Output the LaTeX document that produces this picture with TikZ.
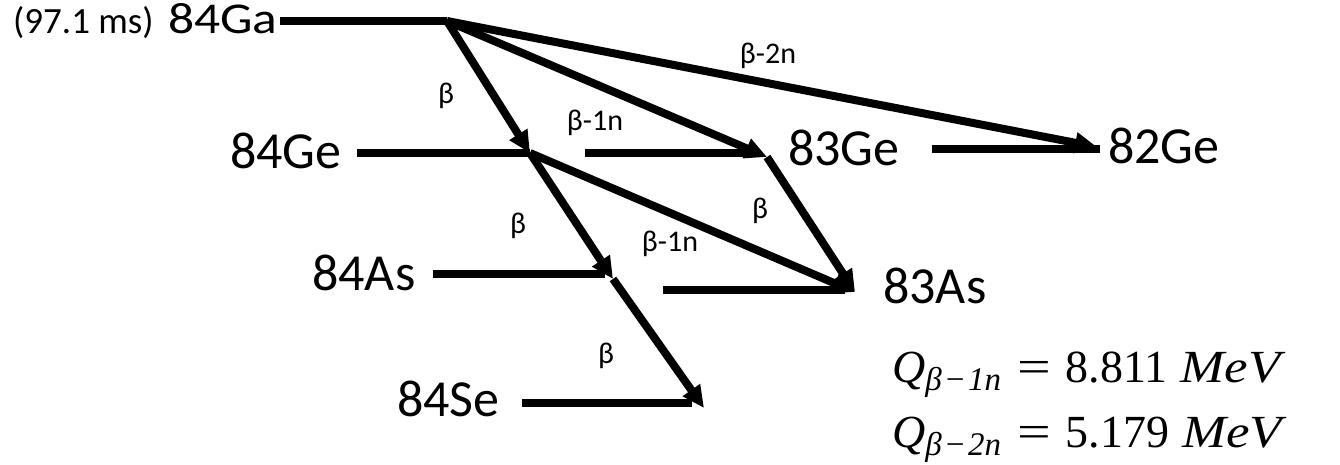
\documentclass[tikz,border=0pt]{standalone}
\usepackage{fontspec}
\setmainfont{Carlito}
\newfontfamily\qfont{Liberation Serif}
\usetikzlibrary{arrows.meta}
\newcommand{\qsub}[1]{\raisebox{-0.18em}{\fontsize{33}{36}\selectfont\itshape #1}}
\newcommand{\qline}[2]{\textit{Q}\qsub{β\hspace{2pt}−\hspace{2pt}#1}\hspace{16pt}\scalebox{1.3}[1]{=}\hspace{15pt}#2\hspace{13pt}\scalebox{1.15}[1]{\textit{MeV}}}
\begin{document}
\begin{tikzpicture}[x=1pt,y=-1pt,
  lvl/.style={line width=8pt},
  dec/.style={line width=8pt,-{Triangle[length=22pt,width=20pt]}},
  big/.style={font=\fontsize{52}{60}\selectfont, inner sep=0pt, anchor=base west},
  lab/.style={font=\fontsize{30}{36}\selectfont, inner sep=0pt, anchor=base},
  eq/.style={font=\qfont\fontsize{46}{50}\selectfont, inner sep=0pt, anchor=base west}]
\useasboundingbox (0,0) rectangle (1340,465);
% labels
\node[big, font=\fontsize{44}{50}\selectfont] (ga) at (168,34) {\scalebox{1.17}[1]{84Ga}};
\node[big, font=\fontsize{37}{44}\selectfont] (hl) at (13,34) {(97.1 ms)};
\node[big] (ge84) at (230,168) {84Ge};
\node[big] (ge83) at (788,166) {83Ge};
\node[big] (ge82) at (1108,164) {82Ge};
\node[big] (as84) at (312,290) {84As};
\node[big] (as83) at (883,303) {83As};
\node[big] (se84) at (397,416) {84Se};
% level coordinates
\coordinate (gaA) at (280,21);  \coordinate (V) at (447,21);
\coordinate (geA) at (357,153); \coordinate (G) at (530,153);
\coordinate (g3A) at (585,153); \coordinate (g3B) at (760,153);
\coordinate (g2A) at (932,149); \coordinate (g2B) at (1100,149);
\coordinate (asA) at (433,274); \coordinate (asB) at (605,274);
\coordinate (a3A) at (663,290); \coordinate (a3B) at (845,290);
\coordinate (seA) at (522,403); \coordinate (seB) at (692,403);
% decay targets
\coordinate (T83) at (767,157);
\coordinate (T82) at (1097,147);
\coordinate (TA4) at (613,279);
\coordinate (TA3) at (855,292);
\coordinate (TSe) at (704,408);
% levels
\draw[lvl] (gaA) -- (V);
\draw[lvl] (geA) -- (G);
\draw[lvl] (g3A) -- (g3B);
\draw[lvl] (g2A) -- (g2B);
\draw[lvl] (asA) -- (asB);
\draw[lvl] (a3A) -- (a3B);
\draw[lvl] (seA) -- (seB);
% decays
\draw[dec] (V) -- (G);
\draw[dec] (V) -- (T83);
\draw[dec] (V) -- (T82);
\draw[dec] (G) -- (TA4);
\draw[dec] (G) -- (TA3);
\draw[dec] (T83) -- (TA3);
\draw[dec] (TA4) -- (TSe);
% decay labels
\node[lab] (l1) at (446,104) {β};
\node[lab] (l2) at (595,131) {β-1n};
\node[lab] (l3) at (768,64) {β-2n};
\node[lab] (l4) at (518,233) {β};
\node[lab] (l5) at (670,251) {β-1n};
\node[lab] (l6) at (760,218) {β};
\node[lab] (l7) at (606,363) {β};
% Q values
\node[eq] (q1) at (892,382) {\qline{1n}{8.811}};
\node[eq] (q2) at (892,447) {\qline{2n}{5.179}};
\end{tikzpicture}
\end{document}
